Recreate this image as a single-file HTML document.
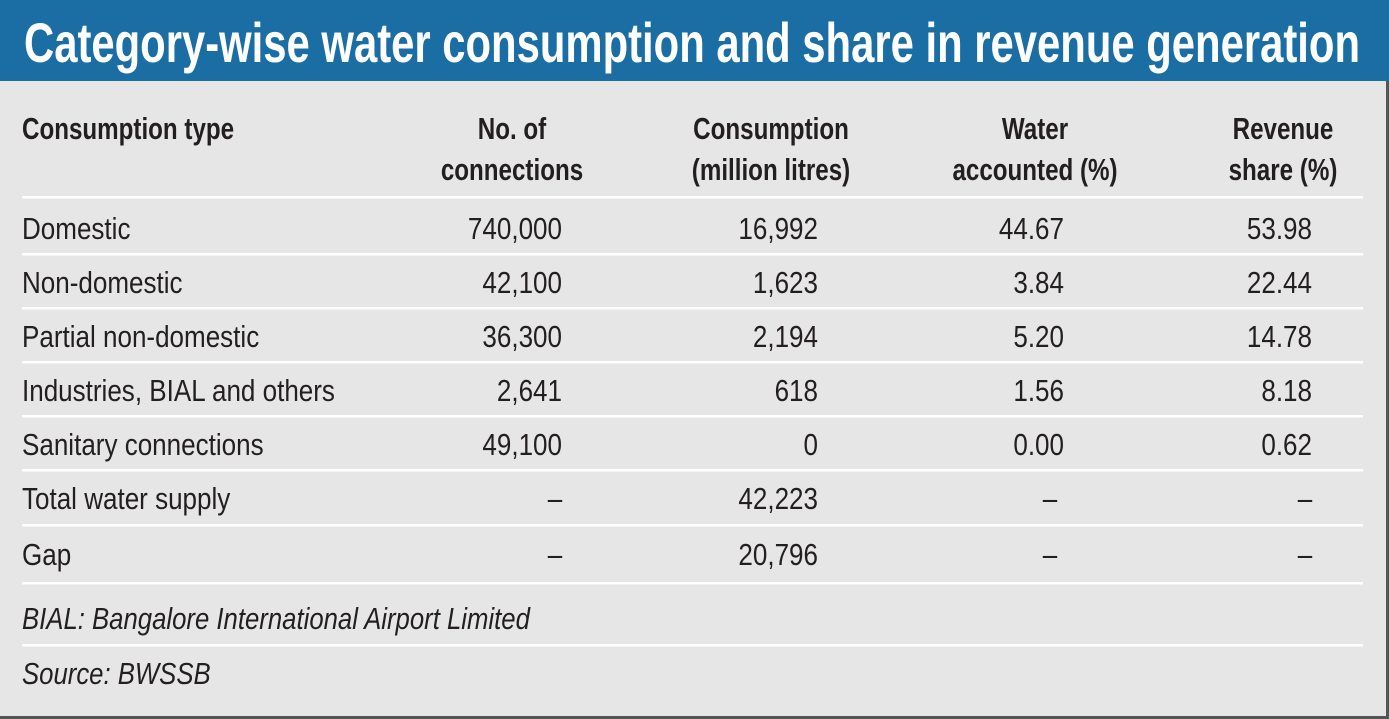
<!DOCTYPE html>
<html><head><meta charset="utf-8">
<style>
html,body{margin:0;padding:0;background:#e6e6e7;}
svg{display:block;}
text{font-family:"Liberation Sans Narrow","Liberation Sans",sans-serif;fill:#231f20;}
</style></head>
<body>
<svg width="1389" height="719" viewBox="0 0 1389 719">
<rect x="0" y="0" width="1389" height="719" fill="#e6e6e7"/>
<rect x="0" y="0" width="1389" height="81" fill="#1a6ea3"/>
<text x="24" y="62" font-size="56" font-weight="bold" style="fill:#fff" textLength="1336" lengthAdjust="spacingAndGlyphs">Category-wise water consumption and share in revenue generation</text>
<line x1="1387.5" y1="81" x2="1387.5" y2="719" stroke="#555" stroke-width="3"/>
<line x1="0" y1="717.5" x2="1389" y2="717.5" stroke="#555" stroke-width="3"/>
<g font-weight="bold" font-size="31">
<text transform="translate(22,139) scale(0.78,1)" font-weight="bold">Consumption type</text>
<text transform="translate(512,0) scale(0.78,1)" text-anchor="middle" font-weight="bold"><tspan x="0" y="139">No. of</tspan><tspan x="0" y="180">connections</tspan></text>
<text transform="translate(771,0) scale(0.78,1)" text-anchor="middle" font-weight="bold"><tspan x="0" y="139">Consumption</tspan><tspan x="0" y="180">(million litres)</tspan></text>
<text transform="translate(1035,0) scale(0.78,1)" text-anchor="middle" font-weight="bold"><tspan x="0" y="139">Water</tspan><tspan x="0" y="180">accounted (%)</tspan></text>
<text transform="translate(1283,0) scale(0.78,1)" text-anchor="middle" font-weight="bold"><tspan x="0" y="139">Revenue</tspan><tspan x="0" y="180">share (%)</tspan></text>
</g>
<g id="rows"></g>
<text transform="translate(22,629) scale(0.83,1)" font-size="31" font-style="italic">BIAL: Bangalore International Airport Limited</text>
<text transform="translate(22,684) scale(0.83,1)" font-size="31" font-style="italic">Source: BWSSB</text>
</svg>
<script>
const categories=["Domestic","Non-domestic","Partial non-domestic","Industries, BIAL and others","Sanitary connections","Total water supply","Gap"];
const connections=["740,000","42,100","36,300","2,641","49,100","–","–"];
const consumption=["16,992","1,623","2,194","618","0","42,223","20,796"];
const waterAccounted=["44.67","3.84","5.20","1.56","0.00","–","–"];
const revenueShare=["53.98","22.44","14.78","8.18","0.62","–","–"];
const NS="http://www.w3.org/2000/svg";
const g=document.getElementById('rows');
const lineYs=[197,254,308,362,416,470,525,583,645];
lineYs.forEach(function(y,i){
  const l=document.createElementNS(NS,'rect');
  l.setAttribute('x',22);l.setAttribute('y',y-1);l.setAttribute('width',1341);l.setAttribute('height',2.5);l.setAttribute('fill','#ffffff');
  
  
  g.appendChild(l);
});
function txt(x,y,s,anchor,name){
  const t=document.createElementNS(NS,'text');
  t.setAttribute('transform','translate('+x+','+y+') scale(0.84,1)');
  t.setAttribute('font-size','31');
  if(anchor)t.setAttribute('text-anchor',anchor);
  t.textContent=s;
  
  
  g.appendChild(t);
}
const cols=[[connections,562,555],[consumption,818,0],[waterAccounted,1064,1050],[revenueShare,1312,1305]];
const colNames=['connections-cell','consumption-cell','water-accounted-cell','revenue-share-cell'];
categories.forEach(function(c,i){
  const y=239+i*54+(i>=6?2:0);
  txt(22,y,c,null,'category-label');
  cols.forEach(function(col,j){
    const v=col[0][i];
    if(v==='–') txt(col[2],y,v,'middle',colNames[j]);
    else txt(col[1],y,v,'end',colNames[j]);
  });
});
</script>
</body></html>
